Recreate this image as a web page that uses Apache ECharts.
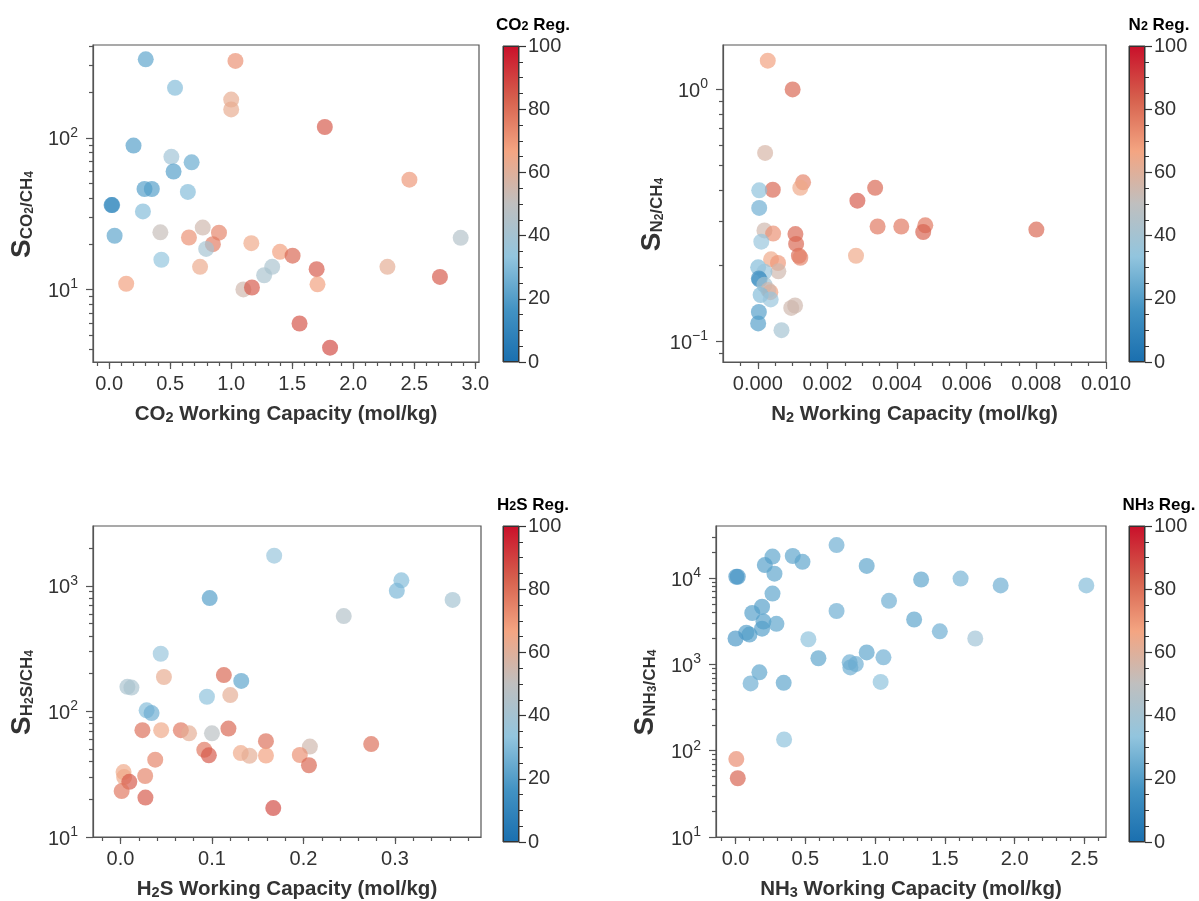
<!DOCTYPE html>
<html>
<head>
<meta charset="utf-8">
<script src="https://cdn.jsdelivr.net/npm/echarts@6/dist/echarts.min.js"></script>
<style>
  html, body { margin: 0; padding: 0; background: #fff; }
  #chart { width: 1199px; height: 901px; }
</style>
</head>
<body>
<div id="chart"></div>
<script>
// CO2 panel: working capacity, selectivity, regenerability
const co2Cap = [0.30, 1.035, 0.54, 1.00, 1.00, 1.767, 0.20, 0.51, 0.676, 0.528, 2.46, 0.29, 0.35, 0.645, 0.025, 0.02,
  0.277, 0.42, 0.767, 0.90, 0.045, 0.654, 1.165, 0.85, 0.795, 2.88, 1.40, 1.503, 0.428, 0.745, 1.336, 1.70, 1.27,
  2.28, 2.71, 0.14, 1.707, 1.10, 1.17, 1.56, 1.81];
const co2Sel = [330, 322, 214, 179, 154, 118, 89, 75, 69, 60, 53, 46, 46, 44, 36, 36,
  32.7, 23.8, 25.6, 23.7, 22.6, 22, 20.2, 19.9, 18.5, 21.9, 17.7, 16.7, 15.7, 14.1, 14.1, 13.6, 12.4,
  14.1, 12.1, 10.9, 10.8, 10.0, 10.3, 5.96, 4.13];
const co2Reg = [22, 72, 30, 63, 63, 85, 20, 38, 24, 20, 70, 20, 20, 30, 15, 15,
  30, 52, 55, 75, 22, 72, 65, 77, 40, 45, 68, 82, 33, 64, 42, 85, 42,
  62, 85, 68, 68, 55, 85, 86, 88];

// N2 panel
const n2Cap = [0.000286, 0.00100, 0.00021, 0.00130, 0.00122, 0.00043, 0.00004, 0.00337, 0.00286, 0.00004,
  0.00344, 0.00412, 0.00481, 0.00475, 0.00800, 0.00019, 0.00044, 0.00108, 0.00110, 0.00010,
  0.00118, 0.00122, 0.00282, 0.00038, 0.00058, 0.00059, 0.00001, 0.00019, 0.00003, 0.00005,
  0.00019, 0.00036, 0.00030, 0.00008, 0.00037, 0.00107, 0.00096, 0.00003, 0.00001, 0.00068];
const n2Sel = [1.30, 1.00, 0.56, 0.428, 0.407, 0.400, 0.398, 0.407, 0.362, 0.339,
  0.286, 0.286, 0.289, 0.272, 0.278, 0.276, 0.268, 0.267, 0.244, 0.249,
  0.219, 0.215, 0.219, 0.212, 0.205, 0.190, 0.197, 0.189, 0.178, 0.176,
  0.168, 0.157, 0.160, 0.153, 0.147, 0.139, 0.136, 0.131, 0.118, 0.111];
const n2Reg = [68, 82, 57, 75, 65, 82, 32, 82, 85, 25,
  78, 78, 78, 83, 82, 55, 72, 82, 82, 35,
  80, 75, 65, 65, 70, 55, 30, 35, 15, 18,
  40, 68, 55, 30, 35, 55, 55, 20, 20, 40];

// H2S panel
const h2sCap = [0.168, 0.307, 0.302, 0.0975, 0.363, 0.244, 0.044, 0.0475, 0.113, 0.132,
  0.0076, 0.012, 0.0945, 0.120, 0.0286, 0.034, 0.024, 0.0445, 0.066, 0.075,
  0.100, 0.118, 0.159, 0.207, 0.274, 0.0916, 0.0966, 0.1315, 0.141, 0.159,
  0.196, 0.206, 0.038, 0.0034, 0.004, 0.027, 0.0097, 0.0013, 0.0273, 0.167];
const h2sSel = [1740, 1107, 914, 800, 773, 575, 288, 188, 195, 175,
  157, 155, 131, 135, 102, 97, 71, 71, 71, 67,
  67, 73, 58, 52.5, 55, 49.5, 44.7, 46.6, 44.4, 44.6,
  45, 37.3, 41.3, 32.9, 30, 30.6, 27.5, 23.2, 20.6, 17];
const h2sReg = [35, 30, 28, 20, 40, 45, 35, 63, 82, 22,
  42, 42, 32, 62, 30, 25, 80, 65, 78, 62,
  48, 82, 80, 55, 80, 78, 85, 65, 62, 68,
  72, 82, 75, 65, 65, 75, 85, 78, 85, 88];

// NH3 panel
const nh3Cap = [0.724, 0.41, 0.265, 0.48, 0.21, 0.94, 0.279, 0.0055, 0.016, 1.33,
  1.613, 1.90, 2.514, 0.265, 1.10, 0.19, 0.724, 0.12, 1.28, 0.20,
  0.293, 0.19, 0.077, 0.10, 1.464, 0.0, 0.522, 1.718, 0.594, 0.94,
  1.06, 0.818, 0.862, 0.823, 0.171, 0.108, 0.345, 1.04, 0.348, 0.0055, 0.016];
const nh3Sel = [24200, 18100, 17800, 15500, 14200, 13900, 11300, 10400, 10400, 9660,
  9910, 8240, 8240, 6630, 5470, 4670, 4170, 3950, 3320, 3150,
  2960, 2600, 2340, 2220, 2420, 2000, 1960, 2000, 1180, 1380,
  1210, 1060, 1010, 925, 811, 603, 612, 628, 135, 80, 48];
const nh3Reg = [25, 22, 22, 22, 20, 22, 22, 18, 18, 22,
  27, 25, 30, 22, 25, 20, 25, 20, 22, 20,
  22, 20, 20, 20, 25, 18, 32, 38, 22, 22,
  25, 25, 25, 25, 22, 25, 22, 32, 32, 73, 83];

// axis ticks
const co2XTicks = [0, 0.5, 1.0, 1.5, 2.0, 2.5, 3.0];
const n2XTicks = [0, 0.002, 0.004, 0.006, 0.008, 0.010];
const h2sXTicks = [0, 0.1, 0.2, 0.3];
const nh3XTicks = [0, 0.5, 1.0, 1.5, 2.0, 2.5];
const regRange = [0, 100];
const regTicks = [0, 20, 40, 60, 80, 100];

const CMAP = ['#1a6faf', '#4393c3', '#92c5de', '#bfbfbf', '#f4a582', '#d6604d', '#c9102a'];
const FONT = '"Liberation Sans", Arial, sans-serif';
const TXT = '#333';
const SPINE = '#555';

function range(a, b, step) {
  const out = [];
  const n = Math.round((b - a) / step);
  for (let i = 0; i <= n; i++) out.push(+(a + i * step).toFixed(6));
  return out;
}
function logMinors(min, max) {
  const out = [];
  for (let e = -3; e <= 6; e++) {
    for (let m = 2; m <= 9; m++) {
      const v = m * Math.pow(10, e);
      if (v > min && v < max * 0.99) out.push(+v.toPrecision(3));
    }
  }
  return out;
}
function logMajors(min, max) {
  const out = [];
  for (let e = -3; e <= 6; e++) {
    const v = Math.pow(10, e);
    if (v >= min * 0.999 && v <= max) out.push(v);
  }
  return out;
}
function sciLabel(v) {
  const e = Math.round(Math.log10(v));
  return '{b|10}{e|' + (e < 0 ? '\u2212' + (-e) : e) + '}';
}

const nameRich = {
  b: { fontSize: 20.5, fontWeight: 'bold', color: TXT, fontFamily: FONT, verticalAlign: 'bottom', lineHeight: 24 },
  s: { fontSize: 14.5, fontWeight: 'bold', color: TXT, fontFamily: FONT, verticalAlign: 'bottom', lineHeight: 11 }
};
const yNameRich = {
  S: { fontSize: 28, fontWeight: 'bold', color: TXT, fontFamily: FONT, verticalAlign: 'bottom', lineHeight: 31 },
  a: { fontSize: 17, fontWeight: 'bold', color: TXT, fontFamily: FONT, verticalAlign: 'bottom', lineHeight: 13 },
  n: { fontSize: 12, fontWeight: 'bold', color: TXT, fontFamily: FONT, verticalAlign: 'bottom', lineHeight: 4 }
};
const tickRich = {
  b: { fontSize: 20, color: TXT, fontFamily: FONT, verticalAlign: 'bottom', lineHeight: 24 },
  e: { fontSize: 14, color: TXT, fontFamily: FONT, verticalAlign: 'top', lineHeight: 4 }
};
const titleRich = {
  b: { fontSize: 17, fontWeight: 'bold', color: TXT, fontFamily: FONT, verticalAlign: 'bottom', lineHeight: 21 },
  s: { fontSize: 12.5, fontWeight: 'bold', color: TXT, fontFamily: FONT, verticalAlign: 'bottom', lineHeight: 9 }
};

const panels = [
  { box: [93, 45, 386, 317], cb: [503, 46, 16, 316], xr: [-0.132, 3.03], yr: [3.32, 410],
    xt: co2XTicks, xm: range(-0.1, 3.0, 0.1), dec: 1, cap: co2Cap, sel: co2Sel, reg: co2Reg,
    xname: '{b|CO}{s|2}{b| Working Capacity (mol/kg)}', yname: '{S|S}{a|CO}{n|2}{a|/CH}{n|4}',
    tname: '{b|CO}{s|2}{b| Reg.}' },
  { box: [723, 45, 383, 317], cb: [1129, 46, 16, 316], xr: [-0.001, 0.010], yr: [0.083, 1.5],
    xt: n2XTicks, xm: range(-0.0005, 0.0095, 0.0005), dec: 3, cap: n2Cap, sel: n2Sel, reg: n2Reg,
    xname: '{b|N}{s|2}{b| Working Capacity (mol/kg)}', yname: '{S|S}{a|N}{n|2}{a|/CH}{n|4}',
    tname: '{b|N}{s|2}{b| Reg.}' },
  { box: [93, 526, 388, 316], cb: [503, 526, 16, 316], xr: [-0.030, 0.394], yr: [10, 3000],
    xt: h2sXTicks, xm: range(-0.02, 0.38, 0.02), dec: 1, cap: h2sCap, sel: h2sSel, reg: h2sReg,
    xname: '{b|H}{s|2}{b|S Working Capacity (mol/kg)}', yname: '{S|S}{a|H}{n|2}{a|S/CH}{n|4}',
    tname: '{b|H}{s|2}{b|S Reg.}' },
  { box: [716, 526, 390, 316], cb: [1129, 526, 16, 316], xr: [-0.14, 2.655], yr: [10, 40300],
    xt: nh3XTicks, xm: range(-0.1, 2.6, 0.1), dec: 1, cap: nh3Cap, sel: nh3Sel, reg: nh3Reg,
    xname: '{b|NH}{s|3}{b| Working Capacity (mol/kg)}', yname: '{S|S}{a|NH}{n|3}{a|/CH}{n|4}',
    tname: '{b|NH}{s|3}{b| Reg.}' }
];

const grid = [], xAxis = [], yAxis = [], series = [], visualMap = [], graphic = [];
const lineStyle = { color: SPINE, width: 1.2 };

panels.forEach(function (p) {
  const g = grid.length;
  grid.push({ left: p.box[0], top: p.box[1], width: p.box[2], height: p.box[3],
    show: true, borderColor: SPINE, borderWidth: 1.2, backgroundColor: 'transparent' });
  const xi = xAxis.length, yi = yAxis.length;
  xAxis.push({
    gridIndex: g, type: 'value', min: p.xr[0], max: p.xr[1], position: 'bottom',
    axisLine: { show: true, onZero: false, lineStyle: lineStyle },
    axisTick: { show: true, customValues: p.xt, length: 7, lineStyle: lineStyle },
    axisLabel: { customValues: p.xt, formatter: function (v) { return v.toFixed(p.dec); },
      fontSize: 20, color: TXT, fontFamily: FONT, margin: 12 },
    splitLine: { show: false },
    name: p.xname, nameLocation: 'middle', nameGap: 39, nameTextStyle: { rich: nameRich }
  });
  xAxis.push({
    gridIndex: g, type: 'value', min: p.xr[0], max: p.xr[1], position: 'bottom',
    axisLine: { show: false, onZero: false },
    axisTick: { show: true, customValues: p.xm, length: 4, lineStyle: lineStyle },
    axisLabel: { show: false }, splitLine: { show: false }
  });
  yAxis.push({
    gridIndex: g, type: 'log', logBase: 10, min: p.yr[0], max: p.yr[1], position: 'left',
    axisLine: { show: true, onZero: false, lineStyle: lineStyle },
    axisTick: { show: true, customValues: logMajors(p.yr[0], p.yr[1]), length: 7, lineStyle: lineStyle },
    axisLabel: { customValues: logMajors(p.yr[0], p.yr[1]), formatter: sciLabel, rich: tickRich, margin: 15 },
    splitLine: { show: false },
    name: p.yname, nameLocation: 'middle', nameGap: 57,
    nameTextStyle: { rich: yNameRich, padding: [0, 22, 0, 0] }
  });
  yAxis.push({
    gridIndex: g, type: 'log', logBase: 10, min: p.yr[0], max: p.yr[1], position: 'left',
    axisLine: { show: false, onZero: false },
    axisTick: { show: true, customValues: logMinors(p.yr[0], p.yr[1]), length: 4, lineStyle: lineStyle },
    axisLabel: { show: false }, splitLine: { show: false }
  });
  const si = series.length;
  series.push({
    type: 'scatter', xAxisIndex: xi, yAxisIndex: yi, symbolSize: 16,
    itemStyle: { opacity: 0.68 },
    data: p.cap.map(function (x, k) { return [x, p.sel[k], p.reg[k]]; })
  });
  visualMap.push({ type: 'continuous', show: false, min: regRange[0], max: regRange[1],
    dimension: 2, seriesIndex: si, inRange: { color: CMAP } });

  // colour bar
  const cg = grid.length;
  grid.push({ left: p.cb[0], top: p.cb[1], width: p.cb[2], height: p.cb[3],
    show: true, borderColor: '#333', borderWidth: 1 });
  const cxi = xAxis.length, cyi = yAxis.length;
  xAxis.push({ gridIndex: cg, type: 'category', data: [''], show: false });
  yAxis.push({
    gridIndex: cg, type: 'value', min: regRange[0], max: regRange[1], interval: 20, position: 'right',
    axisLine: { show: false },
    axisTick: { show: true, length: 7, lineStyle: { color: '#333', width: 1.2 } },
    minorTick: { show: true, splitNumber: 4, length: 4, lineStyle: { color: '#333', width: 1 } },
    axisLabel: { customValues: regTicks, fontSize: 20, color: TXT, fontFamily: FONT, margin: 9 },
    splitLine: { show: false }
  });
  series.push({
    type: 'bar', xAxisIndex: cxi, yAxisIndex: cyi, barWidth: '100%', silent: true,
    data: [regRange[1]],
    itemStyle: {
      borderColor: '#333', borderWidth: 1,
      color: { type: 'linear', x: 0, y: 1, x2: 0, y2: 0,
        colorStops: CMAP.map(function (c, k) { return { offset: k / (CMAP.length - 1), color: c }; }) }
    }
  });
  graphic.push({ type: 'text', x: p.cb[0] + p.cb[2] / 2 + 22, y: p.cb[1] - 23,
    style: { text: p.tname, rich: titleRich, align: 'center', verticalAlign: 'middle' } });
});

const chart = echarts.init(document.getElementById('chart'));
chart.setOption({
  animation: false,
  backgroundColor: '#fff',
  textStyle: { fontFamily: FONT },
  grid: grid, xAxis: xAxis, yAxis: yAxis, series: series, visualMap: visualMap, graphic: graphic
});
window.addEventListener('resize', function () { chart.resize(); });
</script>
</body>
</html>
